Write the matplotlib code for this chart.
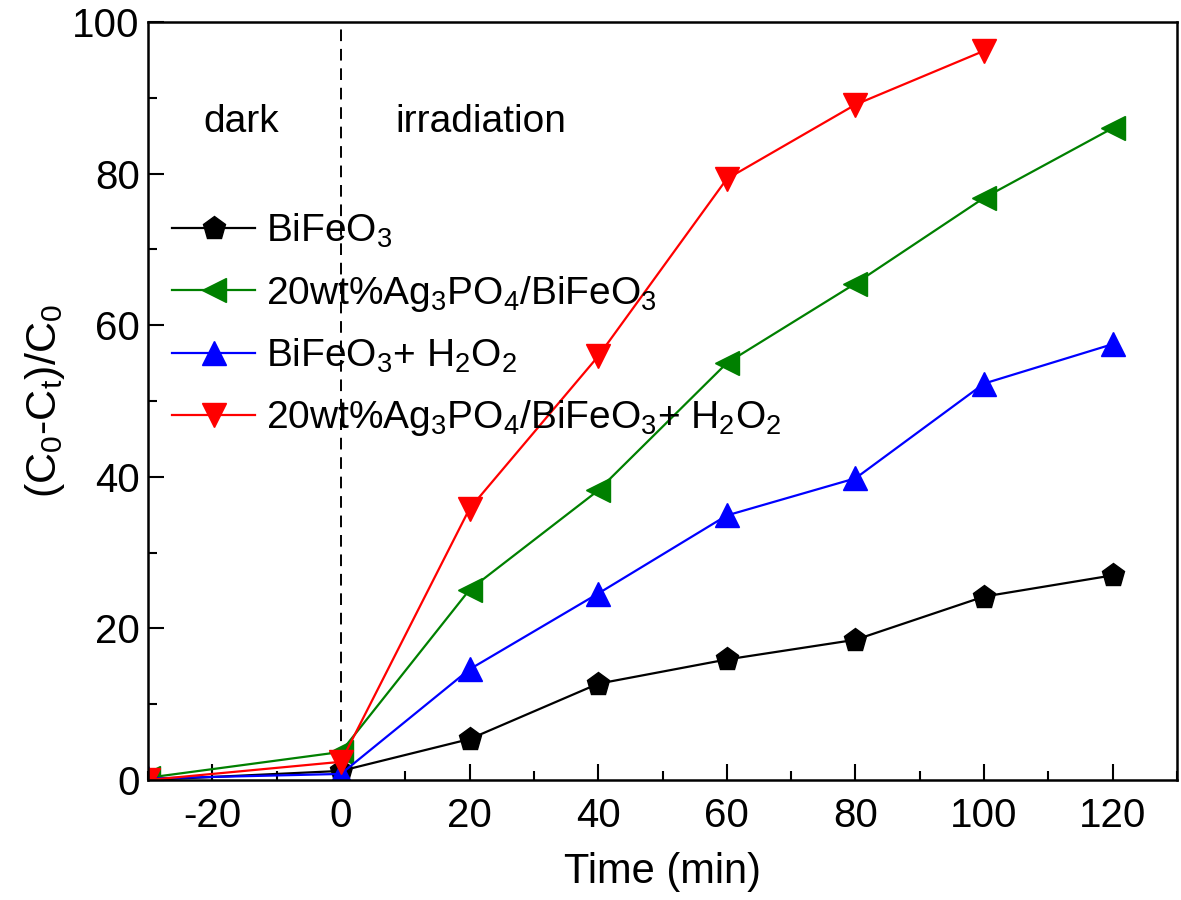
import matplotlib.pyplot as plt
import numpy as np

plt.rcParams['font.family'] = ['Liberation Sans', 'DejaVu Sans']
plt.rcParams['mathtext.fontset'] = 'custom'
plt.rcParams['mathtext.rm'] = 'Liberation Sans'
plt.rcParams['mathtext.it'] = 'Liberation Sans:italic'
plt.rcParams['mathtext.default'] = 'regular'
plt.rcParams['axes.unicode_minus'] = False

# time points (min)
time = [-30, 0, 20, 40, 60, 80, 100, 120]
time_red = [-30, 0, 20, 40, 60, 80, 100]

bifeo3 = [0.0, 1.2, 5.4, 12.7, 15.9, 18.5, 24.2, 27.0]
ag_bifeo3 = [0.3, 3.7, 25.1, 38.2, 55.0, 65.5, 76.8, 86.0]
bifeo3_h2o2 = [0.2, 0.8, 14.6, 24.6, 34.9, 39.8, 52.3, 57.5]
ag_bifeo3_h2o2 = [0.0, 2.4, 35.8, 55.9, 79.3, 89.1, 96.2]

labels = ['BiFeO$_3$',
          '20wt%Ag$_3$PO$_4$/BiFeO$_3$',
          'BiFeO$_3$+ H$_2$O$_2$',
          '20wt%Ag$_3$PO$_4$/BiFeO$_3$+ H$_2$O$_2$']

fig = plt.figure(figsize=(11.81, 9), dpi=100)
ax = fig.add_axes([148/1181, 1-780/900, (1177-148)/1181, (780-22)/900])

ax.axvline(0, color='black', linestyle=(0, (6, 4)), linewidth=1.4, zorder=1)

ax.plot(time, bifeo3, color='black', marker='p', markersize=17, linewidth=1.6, label=labels[0])
ax.plot(time, ag_bifeo3, color='green', marker='<', markersize=17, linewidth=1.6, label=labels[1])
ax.plot(time, bifeo3_h2o2, color='blue', marker='^', markersize=17, linewidth=1.6, label=labels[2])
ax.plot(time_red, ag_bifeo3_h2o2, color='red', marker='v', markersize=17, linewidth=1.6, label=labels[3])

ax.set_xlim(-30, 130)
ax.set_ylim(0, 100)
ax.set_xticks(np.arange(-20, 121, 20))
ax.set_xticks(np.arange(-30, 131, 10), minor=True)
ax.set_yticks(np.arange(0, 101, 20))
ax.set_yticks(np.arange(0, 101, 10), minor=True)
ax.tick_params(which='both', direction='in', top=False, right=False, labelsize=29, width=1.5)
ax.tick_params(which='major', length=11.5)
ax.tick_params(which='minor', length=6.5)
ax.tick_params(axis='x', pad=12.5)
ax.tick_params(axis='y', pad=6)
for s in ax.spines.values():
    s.set_linewidth(1.8)

ax.set_xlabel('Time (min)', fontsize=30, labelpad=12)
ax.set_ylabel('(C$_0$-C$_t$)/C$_0$', fontsize=31, labelpad=4)

ax.text(-15.5, 85.5, 'dark', fontsize=28, ha='center', va='baseline')
ax.text(21.7, 85.5, 'irradiation', fontsize=28, ha='center', va='baseline')

ax.legend(loc='upper left', bbox_to_anchor=(0.008, 0.770), frameon=False, fontsize=28,
          handlelength=2.15, handletextpad=0.28, labelspacing=0.6, borderaxespad=0.0)

fig.savefig('out.png', dpi=100)
